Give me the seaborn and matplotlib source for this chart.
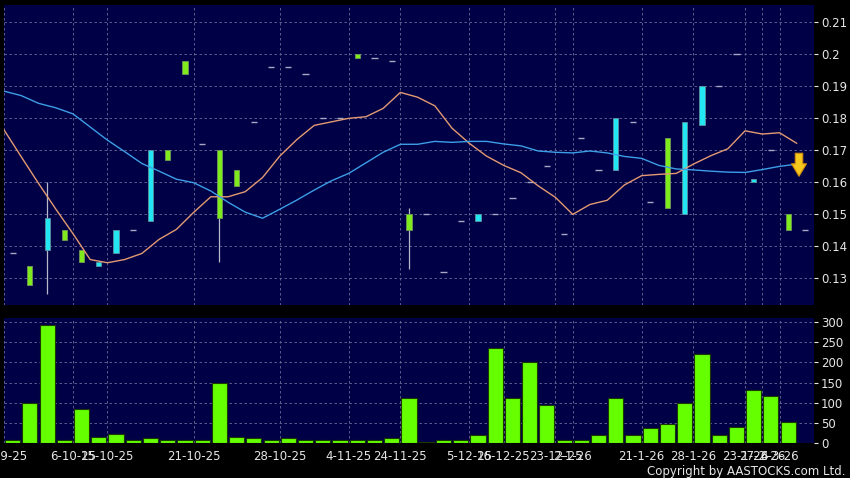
import matplotlib
matplotlib.use("Agg")
import numpy as np
import pandas as pd
import seaborn as sns
import matplotlib.pyplot as plt

# daily candles, one per trading slot
open_ = [0.138, 0.134, 0.139, 0.145, 0.139, 0.134, 0.138, 0.145, 0.148, 0.170,
         0.198, 0.172, 0.170, 0.164, 0.179, 0.196, 0.196, 0.194, 0.180, 0.180,
         0.200, 0.199, 0.198, 0.150, 0.150, 0.132, 0.148, 0.148, 0.150, 0.155,
         0.160, 0.165, 0.144, 0.174, 0.164, 0.164, 0.179, 0.154, 0.174, 0.150,
         0.178, 0.190, 0.200, 0.160, 0.170, 0.150, 0.145]
close = [0.138, 0.128, 0.149, 0.142, 0.135, 0.135, 0.145, 0.145, 0.170, 0.167,
         0.194, 0.172, 0.149, 0.159, 0.179, 0.196, 0.196, 0.194, 0.180, 0.180,
         0.199, 0.199, 0.198, 0.145, 0.150, 0.132, 0.148, 0.150, 0.150, 0.155,
         0.160, 0.165, 0.144, 0.174, 0.164, 0.180, 0.179, 0.154, 0.152, 0.179,
         0.190, 0.190, 0.200, 0.161, 0.170, 0.145, 0.145]
high = [0.138, 0.134, 0.160, 0.145, 0.139, 0.135, 0.145, 0.145, 0.170, 0.170,
        0.198, 0.172, 0.170, 0.164, 0.179, 0.196, 0.196, 0.194, 0.180, 0.180,
        0.200, 0.199, 0.198, 0.152, 0.150, 0.132, 0.148, 0.150, 0.150, 0.155,
        0.160, 0.165, 0.144, 0.174, 0.164, 0.180, 0.179, 0.154, 0.174, 0.179,
        0.190, 0.190, 0.200, 0.161, 0.170, 0.150, 0.145]
low = [0.138, 0.128, 0.125, 0.142, 0.135, 0.134, 0.138, 0.145, 0.148, 0.167,
       0.194, 0.172, 0.135, 0.159, 0.179, 0.196, 0.196, 0.194, 0.180, 0.180,
       0.199, 0.199, 0.198, 0.133, 0.150, 0.132, 0.148, 0.148, 0.150, 0.155,
       0.160, 0.165, 0.144, 0.174, 0.164, 0.164, 0.179, 0.154, 0.152, 0.150,
       0.178, 0.190, 0.200, 0.160, 0.170, 0.145, 0.145]
volume = [8, 100, 293, 8, 84, 16, 23, 7, 12, 7,
          7, 7, 149, 16, 12, 7, 12, 7, 7, 7,
          7, 7, 12, 112, 2, 7, 7, 19, 236, 112,
          200, 95, 7, 7, 19, 112, 19, 36, 48, 99,
          221, 19, 40, 131, 116, 51, 0]

# moving averages (orange = short, blue = long)
ma_short = [0.1764, 0.1680, 0.1597, 0.1517, 0.1440, 0.1359, 0.1349, 0.1359, 0.1378, 0.1422,
            0.1453, 0.1506, 0.1555, 0.1555, 0.1571, 0.1615, 0.1682, 0.1734, 0.1778, 0.1789,
            0.1800, 0.1805, 0.1831, 0.1881, 0.1866, 0.1839, 0.1769, 0.1722, 0.1682, 0.1653,
            0.1630, 0.1589, 0.1553, 0.1500, 0.1531, 0.1544, 0.1592, 0.1621, 0.1625, 0.1628,
            0.1657, 0.1683, 0.1705, 0.1761, 0.1751, 0.1755, 0.1722]
ma_long = [0.1885, 0.1871, 0.1847, 0.1833, 0.1814, 0.1773, 0.1732, 0.1696, 0.1659, 0.1635,
           0.1610, 0.1599, 0.1573, 0.1538, 0.1507, 0.1488, 0.1516, 0.1545, 0.1576, 0.1605,
           0.1628, 0.1661, 0.1694, 0.1719, 0.1719, 0.1728, 0.1725, 0.1728, 0.1728, 0.1720,
           0.1714, 0.1698, 0.1694, 0.1692, 0.1698, 0.1692, 0.1681, 0.1675, 0.1653, 0.1642,
           0.1639, 0.1635, 0.1632, 0.1631, 0.1640, 0.1650, 0.1657]

tick_slots = [0, 4, 6, 11, 16, 20, 23, 27, 29, 32, 33, 37, 40, 43, 44, 45]
tick_labels = ["29-9-25", "6-10-25", "15-10-25", "21-10-25", "28-10-25", "4-11-25",
               "24-11-25", "5-12-25", "16-12-25", "23-12-25", "2-1-26", "21-1-26",
               "28-1-26", "23-1-26", "27-2-26", "4-3-26"]
price_ticks = [0.13, 0.14, 0.15, 0.16, 0.17, 0.18, 0.19, 0.20, 0.21]
price_labels = ["0.13", "0.14", "0.15", "0.16", "0.17", "0.18", "0.19", "0.2", "0.21"]
volume_ticks = [0, 50, 100, 150, 200, 250, 300]

signal_top, signal_bottom = 0.1691, 0.1619

BG = "#000046"
GRID = "#6a6a98"
TXT = "#e6e6e6"
CYAN = "#22e6f2"
GREEN = "#7fea1c"

sns.set_theme(style="dark", rc={
    "figure.facecolor": "black",
    "axes.facecolor": BG,
    "axes.edgecolor": BG,
    "grid.color": GRID,
    "grid.linestyle": (0, (3, 3)),
    "grid.linewidth": 0.6,
    "xtick.color": TXT,
    "ytick.color": TXT,
    "text.color": TXT,
})
plt.rcParams["font.family"] = ["DejaVu Sans"]

fig = plt.figure(figsize=(8.5, 4.78), dpi=100)
ax = fig.add_axes([4 / 850, 1 - 305 / 478, 810 / 850, 300 / 478])
axv = fig.add_axes([4 / 850, 1 - 443 / 478, 810 / 850, 125 / 478])

o = np.array(open_)
c = np.array(close)
h = np.array(high)
lo = np.array(low)
n = len(c)
x = np.arange(n) + 0.5
up = c > o
dn = c < o
flat = c == o

# wicks
ax.vlines(x[~flat], lo[~flat], h[~flat], color="#b8b8cc", lw=0.9, zorder=2)
# bodies
ax.bar(x[up], (c - o)[up], bottom=o[up], width=0.3, color=CYAN,
       edgecolor="#5c8fa0", linewidth=0.6, zorder=3)
ax.bar(x[dn], (o - c)[dn], bottom=c[dn], width=0.3, color=GREEN,
       edgecolor="#6f9a55", linewidth=0.6, zorder=3)
# no-change days
ax.hlines(c[flat], x[flat] - 0.18, x[flat] + 0.18, color="#a8a8c4", lw=1.0, zorder=3)

# moving averages
bx = np.arange(n)
sns.lineplot(x=bx, y=ma_short, color="#e39a72", lw=1.0, ax=ax, zorder=4)
sns.lineplot(x=bx, y=ma_long, color="#3c9ee6", lw=1.0, ax=ax, zorder=4)

# signal arrow
ax_x = n - 0.87
ax.annotate("", xy=(ax_x, signal_bottom), xytext=(ax_x, signal_top),
            arrowprops=dict(arrowstyle="simple,head_width=0.9,head_length=0.75,tail_width=0.45",
                            fc="#f6c81c", ec="#d08a10", lw=0.8, shrinkA=0, shrinkB=0),
            zorder=6)

ax.set_xlim(0, n)
ax.set_ylim(0.1217, 0.2154)
ax.yaxis.tick_right()
ax.set_yticks(price_ticks)
ax.set_yticklabels(price_labels)
ax.set_xticks(tick_slots)
ax.tick_params(axis="x", labelbottom=False, length=0)
ax.tick_params(axis="y", length=3, width=0.8, pad=2, labelsize=8.5, colors=TXT)
ax.grid(True)
for s in ax.spines.values():
    s.set_visible(False)

# volume panel
vol_df = pd.DataFrame({"slot": x, "volume": volume})
sns.barplot(data=vol_df, x="slot", y="volume", native_scale=True, color="#66ff00",
            saturation=1, width=0.88, edgecolor="#1b3a00", linewidth=0.8, ax=axv, zorder=3)
axv.set_xlim(0, n)
axv.set_ylim(0, 310)
axv.yaxis.tick_right()
axv.set_yticks(volume_ticks)
axv.set_xticks(tick_slots)
axv.set_xticklabels(tick_labels)
axv.tick_params(axis="x", length=3, width=0.8, pad=2, labelsize=8.5, colors=TXT)
axv.tick_params(axis="y", length=3, width=0.8, pad=2, labelsize=8.5, colors=TXT)
axv.set_xlabel("")
axv.set_ylabel("")
axv.grid(True)
axv.set_axisbelow(True)
for s in axv.spines.values():
    s.set_visible(False)

fig.text(0.995, 1 - 471.5 / 478, "Copyright by AASTOCKS.com Ltd.", ha="right", va="center",
         fontsize=8.5, color=TXT)

fig.savefig("out.png", dpi=100, facecolor="black")
